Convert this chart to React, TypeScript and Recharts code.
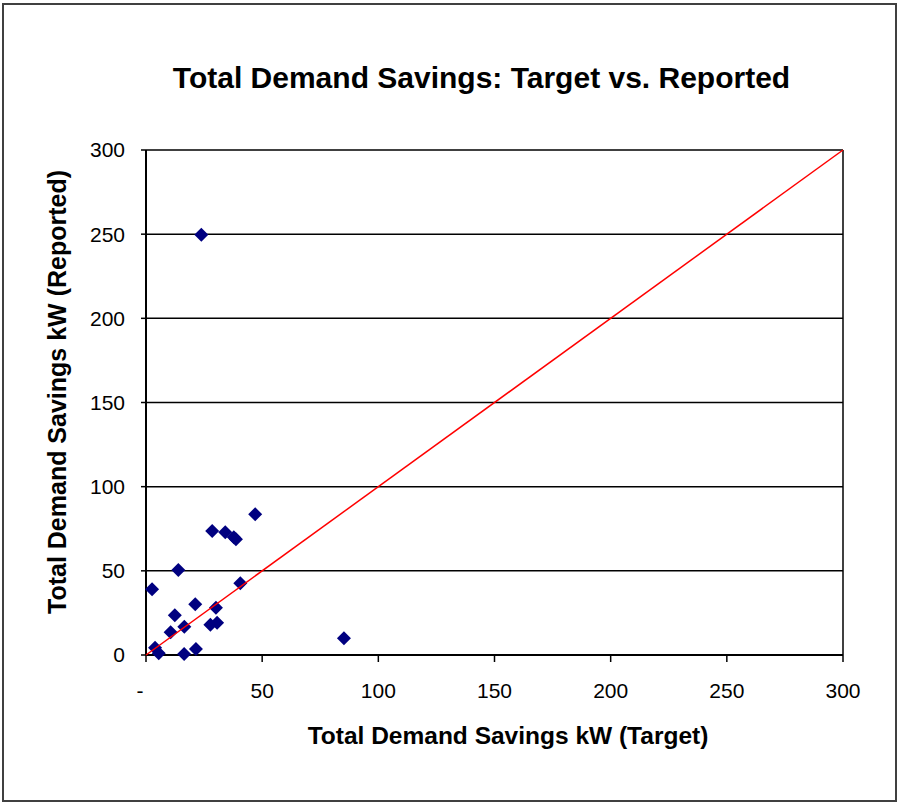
import React from 'react'
import { ScatterChart, Scatter, XAxis, YAxis, CartesianGrid, ReferenceLine } from 'recharts'

const targetKw = [
  47.0, 28.5, 34.1, 37.8, 38.7, 13.9, 2.6, 40.6, 21.2, 30.1, 12.4,
  16.5, 27.7, 30.6, 10.6, 3.9, 5.5, 16.4, 21.5, 23.8, 85.2,
]
const reportedKw = [
  83.6, 73.7, 72.9, 69.9, 68.7, 50.5, 39.0, 42.6, 30.1, 28.1, 23.6,
  16.8, 18.0, 19.2, 13.5, 4.3, 1.0, 0.6, 3.6, 249.6, 9.9,
]
const axisTicks = [0, 50, 100, 150, 200, 250, 300]
const parityLine = [{ x: 0, y: 0 }, { x: 300, y: 300 }]

const points = targetKw.map((x, i) => ({ x, y: reportedKw[i] }))

const FONT = '"Liberation Sans", Arial, sans-serif'
const NAVY = '#000080'

// Excel-style square diamond marker
function Diamond(props: any) {
  const { cx, cy } = props
  if (cx == null || cy == null) return null
  const r = 7
  return (
    <polygon
      points={`${cx},${cy - r} ${cx + r},${cy} ${cx},${cy + r} ${cx - r},${cy}`}
      fill={NAVY}
    />
  )
}

function XTick(props: any) {
  const { x, y, payload } = props
  const v = payload.value
  return (
    <text x={v === 0 ? x - 6 : x} y={y} dy="0.71em" textAnchor="middle"
      fill="#000" fontSize={21} fontFamily={FONT}>
      {v === 0 ? '-' : v}
    </text>
  )
}

export default function App() {
  return (
    <div style={{ position: 'absolute', left: 0, top: 0, width: 906, height: 802, background: '#fff' }}>
      <div style={{
        position: 'absolute', left: 2, top: 3, width: 891, height: 795,
        border: '2px solid #404040',
      }} />
      <div style={{
        position: 'absolute', left: 0, top: 61, width: 963, textAlign: 'center',
        fontFamily: FONT, fontWeight: 'bold', fontSize: 30, color: '#000',
      }}>
        Total Demand Savings: Target vs. Reported
      </div>
      <div style={{
        position: 'absolute', left: 0, top: 722, width: 1016, textAlign: 'center',
        fontFamily: FONT, fontWeight: 'bold', fontSize: 24.5, color: '#000',
      }}>
        Total Demand Savings kW (Target)
      </div>
      <div style={{
        position: 'absolute', left: 57, top: 392, width: 0, height: 0,
      }}>
        <div style={{
          position: 'absolute', left: -300, top: -15, width: 600, textAlign: 'center',
          transform: 'rotate(-90deg)', fontFamily: FONT, fontWeight: 'bold', fontSize: 25,
          color: '#000', lineHeight: '30px', whiteSpace: 'nowrap',
        }}>
          Total Demand Savings kW (Reported)
        </div>
      </div>
      <div style={{ position: 'absolute', left: 0, top: 0 }}>
        <ScatterChart width={906} height={802} margin={{ top: 150, right: 63, bottom: 87, left: 0 }}>
          <CartesianGrid vertical={false} stroke="#000" strokeWidth={1.5} horizontalValues={axisTicks} />
          <XAxis
            type="number"
            dataKey="x"
            domain={[0, 300]}
            ticks={axisTicks}
            height={60}
            axisLine={{ stroke: '#000', strokeWidth: 2 }}
            tickLine={{ stroke: '#000', strokeWidth: 1.5 }}
            tickSize={7}
            tickMargin={21}
            tick={<XTick />}
            interval={0}
          />
          <YAxis
            type="number"
            dataKey="y"
            domain={[0, 300]}
            ticks={axisTicks}
            width={146}
            axisLine={{ stroke: '#000', strokeWidth: 2 }}
            tickLine={{ stroke: '#000', strokeWidth: 1.5 }}
            tickSize={5}
            tickMargin={16}
            tick={{ fill: '#000', fontSize: 21, fontFamily: FONT }}
            interval={0}
          />
          <ReferenceLine x={300} stroke="#000" strokeWidth={1.5} />
          <Scatter data={points} shape={<Diamond />} isAnimationActive={false} />
          <Scatter
            data={parityLine}
            line={{ stroke: '#ff0000', strokeWidth: 1.5 }}
            shape={() => null}
            isAnimationActive={false}
          />
        </ScatterChart>
      </div>
    </div>
  )
}
